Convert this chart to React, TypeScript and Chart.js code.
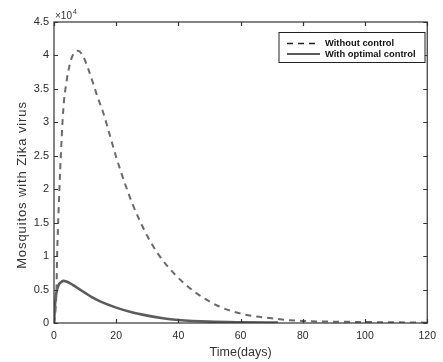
import React, { useEffect, useRef } from "react";
import { Chart, registerables } from "chart.js";

Chart.register(...registerables);

// Time (days) and values for the uncontrolled case
const daysWithout = [0, 0.5, 0.8, 1, 1.5, 2, 3, 4, 5, 6, 7.5, 9, 11, 12.6, 14, 16, 18, 20, 23, 25.5, 28.7, 30, 33.5, 39, 46, 53, 61, 70, 75, 80, 90, 100, 110, 120];
const withoutControl = [0, 2000, 5000, 10000, 17000, 23000, 32000, 36000, 38500, 40000, 40700, 40200, 38000, 35800, 33800, 31200, 28000, 24800, 20600, 17500, 14200, 13000, 10300, 7200, 4400, 2500, 1300, 700, 450, 300, 200, 150, 100, 50];

// Time (days) and values for the optimal-control case
const daysWith = [0, 0.3, 0.6, 1, 1.5, 2, 3, 4, 6, 8, 10, 12, 15, 20, 25, 30, 35, 40, 50, 60, 72];
const withControl = [0, 2500, 4000, 5000, 5700, 6000, 6300, 6200, 5700, 5100, 4500, 3900, 3200, 2300, 1600, 1100, 700, 450, 200, 100, 50];

const xTicks = [0, 20, 40, 60, 80, 100, 120];
const yTicks = [0, 5000, 10000, 15000, 20000, 25000, 30000, 35000, 40000, 45000];

const seriesNames = ["Without control", "With optimal control"];
const xTitle = "Time(days)";
const yTitle = "Mosquitos with Zika virus";

const FONT = "'Liberation Sans', Arial, Helvetica, sans-serif";

export default function App() {
  const ref = useRef<HTMLCanvasElement | null>(null);

  useEffect(() => {
    const canvas = ref.current;
    if (!canvas) return;

    const framePlugin = {
      id: "frame",
      afterDatasetsDraw(chart: any) {
        const { ctx, chartArea: a, scales } = chart;
        ctx.save();
        ctx.strokeStyle = "#333";
        ctx.lineWidth = 1.2;
        ctx.strokeRect(a.left, a.top, a.right - a.left, a.bottom - a.top);
        ctx.beginPath();
        const tl = 4;
        for (const v of xTicks) {
          const px = Math.round(scales.x.getPixelForValue(v)) + 0.5;
          ctx.moveTo(px, a.bottom);
          ctx.lineTo(px, a.bottom - tl);
          ctx.moveTo(px, a.top);
          ctx.lineTo(px, a.top + tl);
        }
        for (const v of yTicks) {
          const py = Math.round(scales.y.getPixelForValue(v)) + 0.5;
          ctx.moveTo(a.left, py);
          ctx.lineTo(a.left + tl, py);
          ctx.moveTo(a.right, py);
          ctx.lineTo(a.right - tl, py);
        }
        ctx.stroke();

        // exponent label
        ctx.fillStyle = "#333";
        ctx.textBaseline = "alphabetic";
        ctx.textAlign = "left";
        ctx.font = `10px ${FONT}`;
        ctx.fillText("\u00d710", a.left + 1, a.top - 3);
        const w = ctx.measureText("\u00d710").width;
        ctx.font = `7px ${FONT}`;
        ctx.fillText("4", a.left + 1 + w + 1, a.top - 8);

        // y-axis title
        ctx.save();
        ctx.translate(22, 185);
        ctx.rotate(-Math.PI / 2);
        ctx.font = `13px ${FONT}`;
        (ctx as any).letterSpacing = "0.9px";
        ctx.textAlign = "center";
        ctx.textBaseline = "middle";
        ctx.fillStyle = "#333";
        ctx.fillText(yTitle, 0, 0);
        ctx.restore();

        // legend
        const lx = 279, ly = 32.5, lw = 146, lh = 30;
        ctx.fillStyle = "#fff";
        ctx.fillRect(lx, ly, lw, lh);
        ctx.strokeStyle = "#222";
        ctx.lineWidth = 1;
        ctx.strokeRect(lx, ly, lw, lh);
        const rows = [43.5, 54];
        chart.data.datasets.forEach((ds: any, i: number) => {
          const y = rows[i];
          ctx.beginPath();
          ctx.strokeStyle = "#222";
          ctx.lineWidth = 1.7;
          ctx.setLineDash(ds.borderDash || []);
          ctx.moveTo(287, y);
          ctx.lineTo(320, y);
          ctx.stroke();
          ctx.setLineDash([]);
          ctx.fillStyle = "#111";
          ctx.font = `bold 9.4px ${FONT}`;
          ctx.textBaseline = "middle";
          ctx.fillText(ds.label, 325, y);
        });
        ctx.restore();
      },
    };

    const chart = new Chart(canvas, {
      type: "line",
      data: {
        datasets: [
          {
            label: seriesNames[0],
            data: daysWithout.map((d, i) => ({ x: d, y: withoutControl[i] })),
            borderColor: "#6a6a6a",
            borderWidth: 2,
            borderDash: [6, 5],
            pointRadius: 0,
            cubicInterpolationMode: "monotone",
            fill: false,
          },
          {
            label: seriesNames[1],
            data: daysWith.map((d, i) => ({ x: d, y: withControl[i] })),
            borderColor: "#5c5c5c",
            borderWidth: 2.6,
            pointRadius: 0,
            cubicInterpolationMode: "monotone",
            fill: false,
          },
        ],
      },
      options: {
        animation: false,
        responsive: false,
        layout: { padding: { top: 22, right: 13, left: 0, bottom: 0 } },
        plugins: { legend: { display: false }, tooltip: { enabled: false } },
        scales: {
          x: {
            type: "linear",
            min: 0,
            max: 120,
            afterBuildTicks: (s: any) => {
              s.ticks = xTicks.map((v) => ({ value: v }));
            },
            afterFit: (s: any) => {
              s.height = 39;
            },
            grid: { display: false, drawTicks: false },
            border: { display: false },
            ticks: {
              color: "#2a2a2a",
              font: { family: FONT, size: 10.5 },
              padding: 7,
              maxRotation: 0,
            },
            title: {
              display: true,
              text: xTitle,
              color: "#333",
              font: { family: FONT, size: 12.5 },
              padding: { top: 2, bottom: 2 },
            },
          },
          y: {
            type: "linear",
            min: 0,
            max: 45000,
            afterBuildTicks: (s: any) => {
              s.ticks = yTicks.map((v) => ({ value: v }));
            },
            afterFit: (s: any) => {
              s.width = 54;
            },
            grid: { display: false, drawTicks: false },
            border: { display: false },
            ticks: {
              color: "#2a2a2a",
              font: { family: FONT, size: 11 },
              padding: 5,
              callback: (v: any) => String(Number(v) / 10000),
            },
            title: { display: false },
          },
        },
      },
      plugins: [framePlugin],
    } as any);

    return () => chart.destroy();
  }, []);

  return (
    <div style={{ position: "absolute", left: 0, top: 0, width: 443, height: 362, background: "#fff" }}>
      <canvas ref={ref} width={443} height={362} style={{ display: "block" }} />
    </div>
  );
}
